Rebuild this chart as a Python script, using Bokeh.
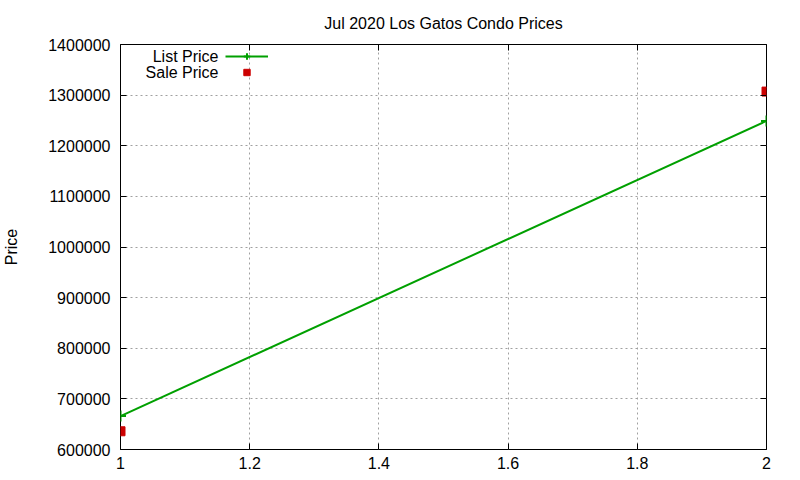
# Jul 2020 Los Gatos condo prices, gnuplot-like look

from bokeh.plotting import figure
from bokeh.models import (LinearAxis, FixedTicker, PrintfTickFormatter,
                          CustomJSTickFormatter, Legend, LegendItem, Label,
                          Range1d)
from bokeh.embed import file_html
from bokeh.resources import INLINE

# data
sale_no = [1, 2]
list_price = [666000, 1249000]
sale_price = [636000, 1307000]

x_ticks = [1, 1.2, 1.4, 1.6, 1.8, 2]
y_ticks = [600000, 700000, 800000, 900000, 1000000, 1100000, 1200000, 1300000, 1400000]

FONT = "Liberation Sans"
FS = "16px"
GREEN = "#00a000"
RED = "#cc0000"

p = figure(width=800, height=480, output_backend="svg", toolbar_location=None,
           x_range=Range1d(1, 2), y_range=Range1d(600000, 1400000),
           x_axis_location=None, y_axis_location=None,
           min_border_left=120, min_border_right=34,
           min_border_top=44, min_border_bottom=31)

p.title.text = "Jul 2020 Los Gatos Condo Prices"
p.title.align = "center"
p.title.text_font = FONT
p.title.text_font_size = FS
p.title.text_font_style = "normal"
p.title.text_color = "black"
p.title.standoff = 25

p.outline_line_color = "black"
p.outline_line_width = 1
p.background_fill_color = "white"
p.border_fill_color = "white"


def make_axis(ticks, fmt):
    ax = LinearAxis(ticker=FixedTicker(ticks=ticks))
    if fmt:
        ax.formatter = PrintfTickFormatter(format=fmt)
        ax.major_label_text_color = "black"
    else:
        # mirrored ticks only, no labels
        ax.formatter = CustomJSTickFormatter(code="return ''")
        ax.major_label_text_color = None
    ax.major_tick_in = 6
    ax.major_tick_out = 0
    ax.minor_tick_line_color = None
    ax.axis_line_color = None
    ax.major_tick_line_color = "black"
    ax.major_label_text_font = FONT
    ax.major_label_text_font_size = FS
    ax.major_label_standoff = 10
    return ax


xb = make_axis(x_ticks, "%g")
xb.major_label_standoff = 7
yl = make_axis(y_ticks, "%d")
yl.axis_label = "Price"
yl.axis_label_text_font = FONT
yl.axis_label_text_font_size = FS
yl.axis_label_text_font_style = "normal"
yl.axis_label_text_color = "black"
yl.axis_label_standoff = 25
p.add_layout(xb, "below")
p.add_layout(yl, "left")
p.add_layout(make_axis(x_ticks, None), "above")
p.add_layout(make_axis(y_ticks, None), "right")

p.xgrid.ticker = FixedTicker(ticks=x_ticks)
p.ygrid.ticker = FixedTicker(ticks=y_ticks)
for g in (p.xgrid, p.ygrid):
    g.grid_line_color = "#a0a0a0"
    g.grid_line_dash = "2 3"
    g.grid_line_width = 1

# list price: line with plus markers
ln = p.line(sale_no, list_price, line_color=GREEN, line_width=2)
pts = p.scatter(sale_no, list_price, marker="cross", size=11,
                line_color=GREEN, line_width=2)
# sale price: red squares
sq = p.scatter(sale_no, sale_price, marker="square", size=9,
               fill_color=RED, line_color=RED)

# gnuplot-style key: text right-aligned, sample to the right of it
legend = Legend(items=[LegendItem(label=" ", renderers=[ln, pts]),
                       LegendItem(label=" ", renderers=[sq])],
                location=(105, 369))
legend.border_line_color = None
legend.background_fill_alpha = 0
legend.glyph_width = 43
legend.glyph_height = 16
legend.label_height = 16
legend.label_text_font_size = "1px"
legend.spacing = 0
legend.padding = 0
legend.margin = 0
p.add_layout(legend, "center")

for txt, yy in (("List Price", 393), ("Sale Price", 377)):
    p.add_layout(Label(x=98, y=yy, x_units="screen", y_units="screen", text=txt,
                       text_align="right", text_baseline="middle",
                       text_font=FONT, text_font_size=FS, text_color="black"))

open("out.html", "w").write(file_html(p, INLINE))
